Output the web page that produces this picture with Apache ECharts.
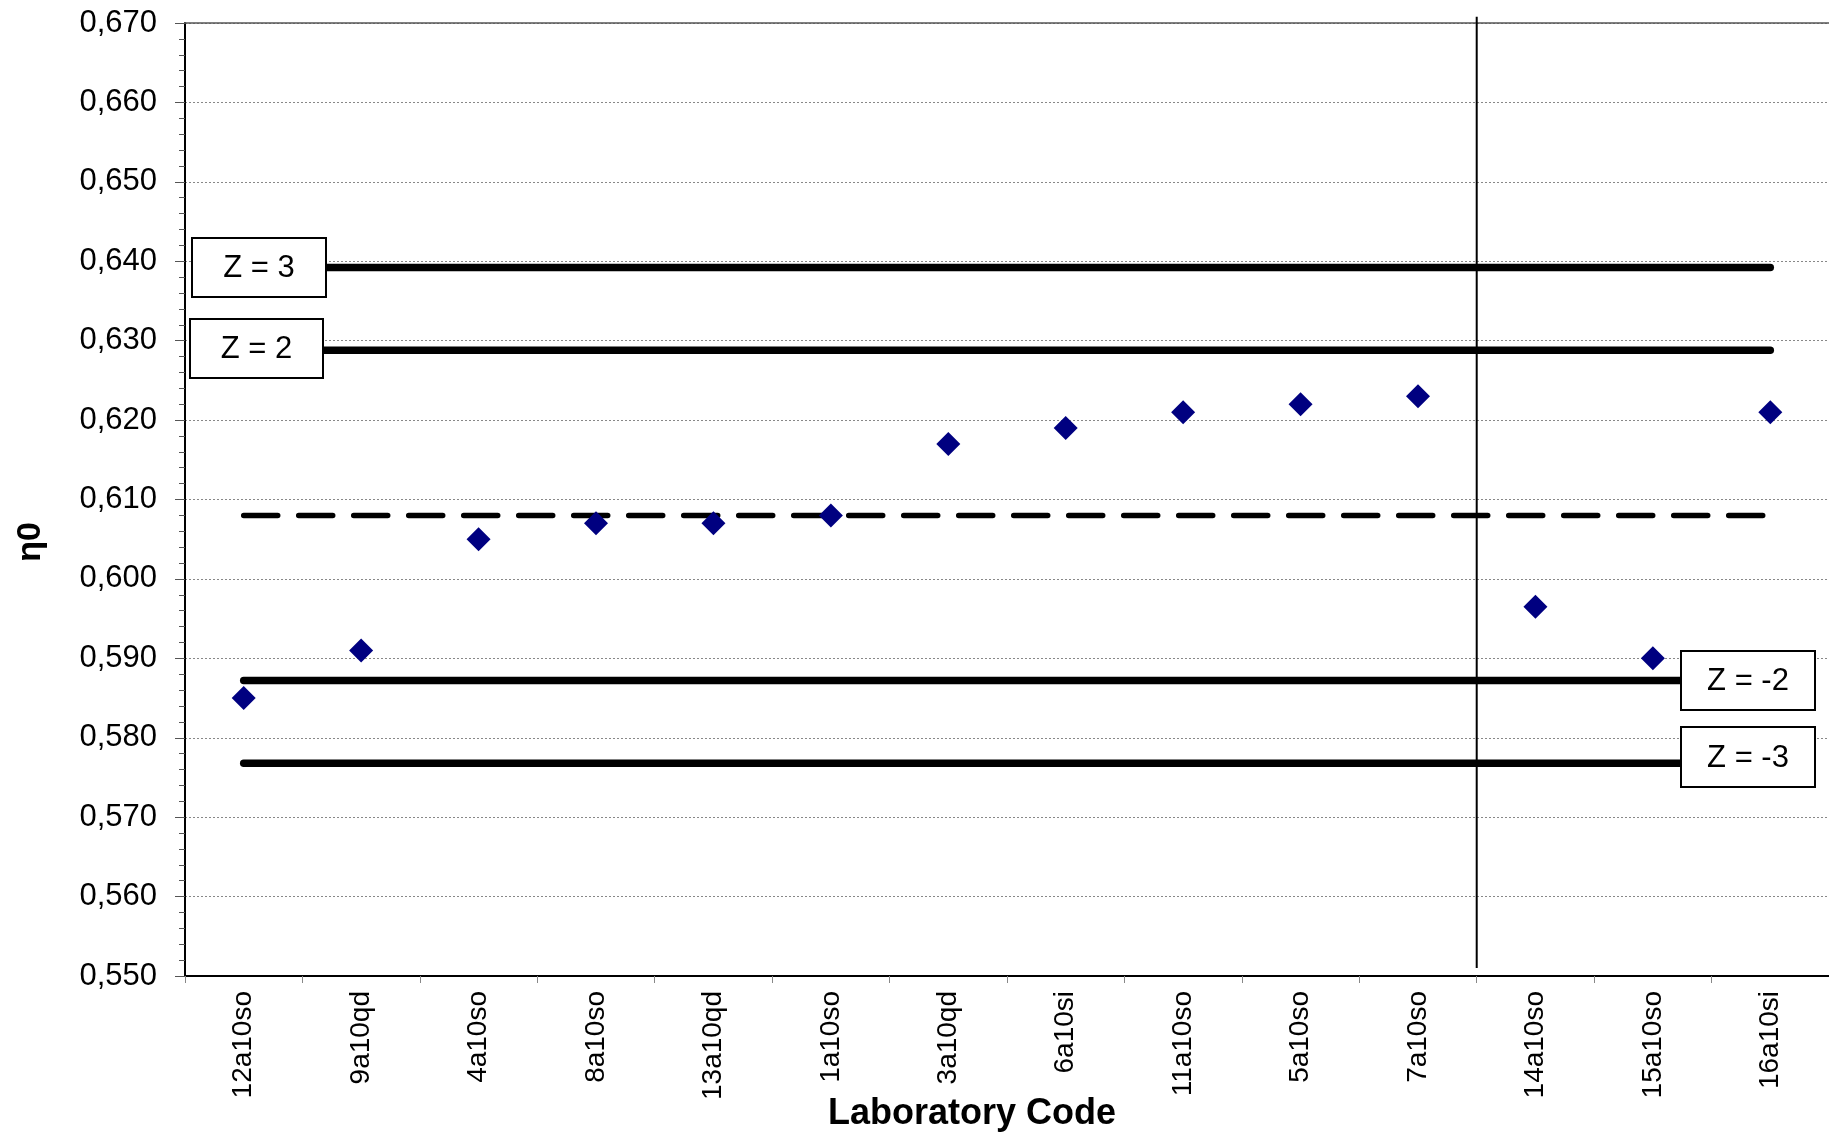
<!DOCTYPE html>
<html>
<head>
<meta charset="utf-8">
<script src="https://cdn.jsdelivr.net/npm/echarts@6/dist/echarts.min.js"></script>
<style>
html,body{margin:0;padding:0;background:#fff;}
#chart{width:1829px;height:1136px;}
</style>
</head>
<body>
<div id="chart"></div>
<script>
// ---- data ----
const categories = ['12a10so','9a10qd','4a10so','8a10so','13a10qd','1a10so','3a10qd','6a10si','11a10so','5a10so','7a10so','14a10so','15a10so','16a10si'];
const eta0Values = [0.585, 0.591, 0.605, 0.607, 0.607, 0.608, 0.617, 0.619, 0.621, 0.622, 0.623, 0.5965, 0.590, 0.621];
const meanValue = 0.608;
const zLabels = ['Z = 3', 'Z = 2', 'Z = -2', 'Z = -3'];
const zValues = [0.6392, 0.6288, 0.5872, 0.5768];
const separatorAt = 11;            // category boundary (between 7a10so and 14a10so)
const separatorRange = [0.5510, 0.6708];
const yTicks = { min: 0.55, max: 0.67, step: 0.01 };

const FONT = "'Liberation Sans', Arial, sans-serif";
const chart = echarts.init(document.getElementById('chart'), null, { renderer: 'canvas' });

const x0 = 0.5, x1 = categories.length - 0.5;
const zSeries = zValues.map((v, i) => ({
  type: 'line', xAxisIndex: 1, yAxisIndex: 0, name: zLabels[i],
  data: [[x0, v], [x1, v]], symbol: 'none', silent: true, z: 3,
  lineStyle: { color: '#000', width: 7.5, cap: 'round' }
}));

const option = {
  animation: false,
  backgroundColor: '#fff',
  grid: { left: 185, right: 0, top: 23, bottom: 160, containLabel: false },
  xAxis: [
    {
      type: 'category', data: categories, boundaryGap: true, position: 'bottom',
      axisLine: { show: true, lineStyle: { color: '#000', width: 2 } },
      axisTick: { show: true, length: 7, lineStyle: { color: '#888', width: 1 } },
      axisLabel: { rotate: 90, margin: 15, fontSize: 28, color: '#000', fontFamily: FONT },
      splitLine: { show: false }
    },
    {
      type: 'value', min: 0, max: categories.length, position: 'top',
      axisLine: { show: true, lineStyle: { color: '#555', width: 1.5 } },
      axisTick: { show: false }, axisLabel: { show: false }, splitLine: { show: false }
    }
  ],
  yAxis: {
    type: 'value', min: yTicks.min, max: yTicks.max, interval: yTicks.step,
    axisLine: { show: true, lineStyle: { color: '#000', width: 2 } },
    axisTick: { show: true, length: 10, lineStyle: { color: '#555', width: 1 } },
    minorTick: { show: true, splitNumber: 5, length: 6, lineStyle: { color: '#555', width: 1 } },
    axisLabel: {
      margin: 28, fontSize: 31, color: '#000', fontFamily: FONT,
      formatter: v => v.toFixed(3).replace('.', ',')
    },
    splitLine: { show: true, lineStyle: { color: '#888', width: 1, type: [2, 2] } }
  },
  series: [
    ...zSeries,
    {
      type: 'line', xAxisIndex: 1, yAxisIndex: 0, name: 'mean',
      data: [[x0, meanValue], [x1, meanValue]], symbol: 'none', silent: true, z: 3,
      lineStyle: { color: '#000', width: 5.5, type: [34, 21], cap: 'round' }
    },
    {
      type: 'line', xAxisIndex: 1, yAxisIndex: 0, name: 'separator', clip: false,
      data: [[separatorAt, separatorRange[0]], [separatorAt, separatorRange[1]]],
      symbol: 'none', silent: true, z: 4,
      lineStyle: { color: '#000', width: 2 }
    },
    {
      type: 'scatter', xAxisIndex: 0, yAxisIndex: 0, name: 'η0',
      data: eta0Values, symbol: 'diamond', symbolSize: 24, z: 10,
      itemStyle: { color: '#000080', opacity: 1 }
    }
  ],
  graphic: [
    ...[
      [192, 238, 134, 59, 0],
      [190, 319, 133, 59, 1],
      [1681, 651, 134, 59, 2],
      [1681, 727, 134, 60, 3]
    ].map(b => ({
      type: 'group', x: b[0], y: b[1], z: 100,
      children: [
        { type: 'rect', z: 100, shape: { x: 0, y: 0, width: b[2], height: b[3] },
          style: { fill: '#fff', stroke: '#000', lineWidth: 2 } },
        { type: 'text', z: 101, x: b[2] / 2, y: b[3] / 2 + 1,
          style: { text: zLabels[b[4]], font: '31px ' + FONT, fill: '#000', align: 'center', verticalAlign: 'middle' } }
      ]
    })),
    {
      type: 'text', x: 31, y: 542, rotation: Math.PI / 2, z: 100,
      style: { text: 'η0', font: 'bold 34px ' + FONT, fill: '#000', align: 'center', verticalAlign: 'middle' }
    },
    {
      type: 'text', x: 972, y: 1114, z: 100,
      style: { text: 'Laboratory Code', font: 'bold 36px ' + FONT, fill: '#000', align: 'center', verticalAlign: 'middle' }
    }
  ]
};
chart.setOption(option);
</script>
</body>
</html>
